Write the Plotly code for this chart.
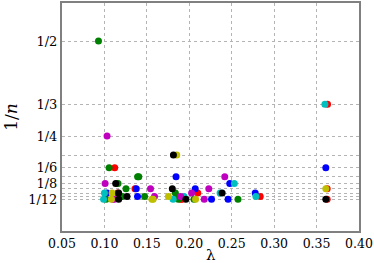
import plotly.graph_objects as go

# (lambda, n) per colour series
red_lam = [0.3629, 0.1121, 0.1360, 0.3625, 0.1155, 0.2100, 0.2836, 0.1914, 0.1898, 0.3625]
red_n   = [3, 6, 9, 9, 10, 10, 11, 12, 12, 12]

green_lam = [0.0930, 0.1055, 0.1391, 0.1405, 0.1160, 0.1254, 0.1836, 0.1207, 0.1473, 0.1850, 0.1020, 0.1870, 0.2055, 0.2574]
green_n   = [2, 6, 7, 7, 8, 9, 10, 11, 11, 11, 12, 12, 12, 12]

blue_lam = [0.3609, 0.1844, 0.2477, 0.1375, 0.2070, 0.1030, 0.2777, 0.1390, 0.2262, 0.2457]
blue_n   = [6, 7, 8, 9, 9, 10, 10, 11, 12, 12]

cyan_lam = [0.3598, 0.2531, 0.1000, 0.2363, 0.1938, 0.2785, 0.0990, 0.1809]
cyan_n   = [3, 8, 10, 10, 11, 11, 12, 12]

magenta_lam = [0.1031, 0.2418, 0.1008, 0.1543, 0.2230, 0.2027, 0.1590, 0.1898, 0.1117, 0.1098, 0.2176]
magenta_n   = [4, 7, 8, 9, 9, 10, 11, 11, 12, 12, 12]

yellow_lam = [0.1852, 0.1090, 0.1754, 0.3609, 0.1082, 0.1559, 0.1574, 0.2074]
yellow_n   = [5, 10, 11, 9, 12, 12, 12, 12]

black_lam = [0.1813, 0.1133, 0.1800, 0.1168, 0.2387, 0.1266, 0.1168, 0.1960, 0.3609]
black_n   = [5, 8, 9, 10, 10, 11, 12, 12, 12]

series = [
    (red_lam, red_n, "#ff0000"),
    (green_lam, green_n, "#008000"),
    (blue_lam, blue_n, "#0000ff"),
    (cyan_lam, cyan_n, "#00bfbf"),
    (magenta_lam, magenta_n, "#bf00bf"),
    (yellow_lam, yellow_n, "#bfbf00"),
    (black_lam, black_n, "#000000"),
]

grid_n = [2, 3, 4, 5, 6, 7, 8, 9, 10, 11, 12]
labelled_n = {2: "1/2", 3: "1/3", 4: "1/4", 6: "1/6", 8: "1/8", 12: "1/12"}
x_ticks = [0.05, 0.10, 0.15, 0.20, 0.25, 0.30, 0.35, 0.40]

fig = go.Figure()
for lam, n, col in series:
    fig.add_trace(go.Scatter(
        x=lam, y=[1.0 / k for k in n], mode="markers",
        marker=dict(color=col, size=7, line=dict(width=0)),
        showlegend=False, hoverinfo="skip"))

xfont = dict(family="DejaVu Serif", size=12.5, color="black")
yfont = dict(family="DejaVu Serif", size=13, color="black")
fig.update_layout(
    width=374, height=263,
    margin=dict(l=62, r=14, t=1, b=32),
    plot_bgcolor="white", paper_bgcolor="white",
    font=yfont,
)
fig.update_xaxes(
    range=[0.05, 0.40], tickvals=x_ticks,
    ticktext=[f"{v:.2f}" for v in x_ticks],
    ticklabeloverflow="allow",
    showgrid=True, gridcolor="#b4b4b4", griddash="dot", gridwidth=1,
    showline=True, linecolor="#808080", linewidth=2, mirror=True,
    zeroline=False, ticks="", tickfont=xfont,
)
fig.add_annotation(
    text="λ", xref="paper", yref="paper", x=0.5, y=0,
    yanchor="top", yshift=-13, showarrow=False,
    font=dict(family="DejaVu Serif", size=15, color="black"))
fig.update_yaxes(
    range=[0, 0.6], tickvals=[1.0 / k for k in grid_n],
    ticktext=[labelled_n.get(k, "") for k in grid_n],
    showgrid=True, gridcolor="#b4b4b4", griddash="dot", gridwidth=1,
    showline=True, linecolor="#808080", linewidth=2, mirror=True,
    zeroline=False, ticks="", tickfont=yfont,
    title=dict(text="1/<i>n</i>", font=dict(family="DejaVu Serif", size=17), standoff=6),
)
fig.write_html("out.html", config={"displayModeBar": False},
               post_script="document.body.style.margin='0';")
